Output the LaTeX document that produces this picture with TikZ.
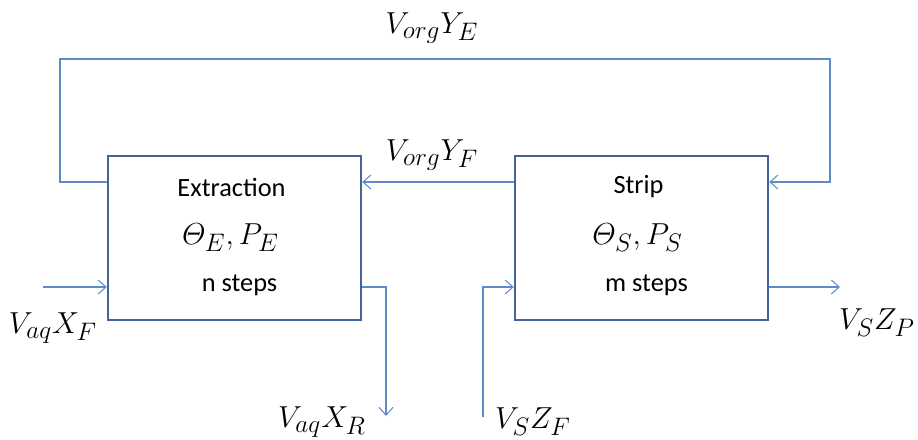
\documentclass[tikz,border=0pt]{standalone}
\usepackage{amsmath}
\usepackage{fontspec}
\setmainfont{Carlito}
\usepackage{tikz}
\usetikzlibrary{positioning,calc,arrows.meta}

\definecolor{boxcol}{RGB}{65,100,155}
\definecolor{flowcol}{RGB}{95,140,200}

\begin{document}
\begin{tikzpicture}[x=0.02cm,y=-0.02cm]
	
		\tikzset{boxstyle/.style={draw=boxcol,line width=1.4pt,minimum width=5.06cm,minimum height=3.28cm,inner sep=0pt}}
		\tikzset{flowstyle/.style={draw=flowcol,line width=0.6pt}}
		\tikzset{flowarrow/.style={flowstyle,-{Straight Barb[length=4.5pt,width=8pt]}}}
		\tikzset{textstyle/.style={font=\fontsize{15}{17}\selectfont,inner sep=0pt}}
		\tikzset{mathstyle/.style={font=\fontsize{19}{21}\selectfont,inner sep=0pt}}
		
		\useasboundingbox (0,0) rectangle (918,439);
		
		\newcommand\unitBox[5] % {name}{x}{title}{parameters}{steps}
		{
			\node[boxstyle] at (#2,238) (#1) {};
			\node[textstyle] at ($(#1.center)+(-3,-51)$) (#1title) {#3};
			\node[mathstyle] at ($(#1.center)+(-4,0)$) (#1par) {$#4$};
			\node[textstyle] at ($(#1.center)+(5,47)$) (#1steps) {#5};
		}
		
		\unitBox{ext}{234.5}{Extraction}{\varTheta_E, P_E}{n steps}
		\unitBox{str}{641.5}{Strip}{\varTheta_S, P_S}{m steps}
		
		\coordinate (feedY) at (0,182);
		\coordinate (sideY) at (0,287);
		\coordinate (topL) at (60,59);
		\coordinate (topR) at (830,59);
		\coordinate (aqIn) at (43,287);
		\coordinate (rafOut) at (386,416);
		\coordinate (stripIn) at (483,417);
		\coordinate (prodOut) at (840,287);
		
		% organic recycle
		\draw[flowarrow] (ext.west |- feedY) -| (topL) -- (topR) |- (str.east |- feedY);
		\draw[flowarrow] (str.west |- feedY) -- (ext.east |- feedY);
		
		% aqueous and strip streams
		\draw[flowarrow] (aqIn) -- (ext.west |- sideY);
		\draw[flowarrow] (ext.east |- sideY) -| (rafOut);
		\draw[flowarrow] (stripIn) |- (str.west |- sideY);
		\draw[flowarrow] (str.east |- sideY) -- (prodOut);
		
		\node[mathstyle] at (432,28) (lblYE) {$V_{org}Y_E$};
		\node[mathstyle] at (432,155) (lblYF) {$V_{org}Y_F$};
		\node[mathstyle] at (53,328) (lblXF) {$V_{aq}X_F$};
		\node[mathstyle] at (322,422) (lblXR) {$V_{aq}X_R$};
		\node[mathstyle] at (533,422) (lblZF) {$V_S Z_F$};
		\node[mathstyle] at (877,323) (lblZP) {$V_S Z_P$};
	\end{tikzpicture}
\end{document}
